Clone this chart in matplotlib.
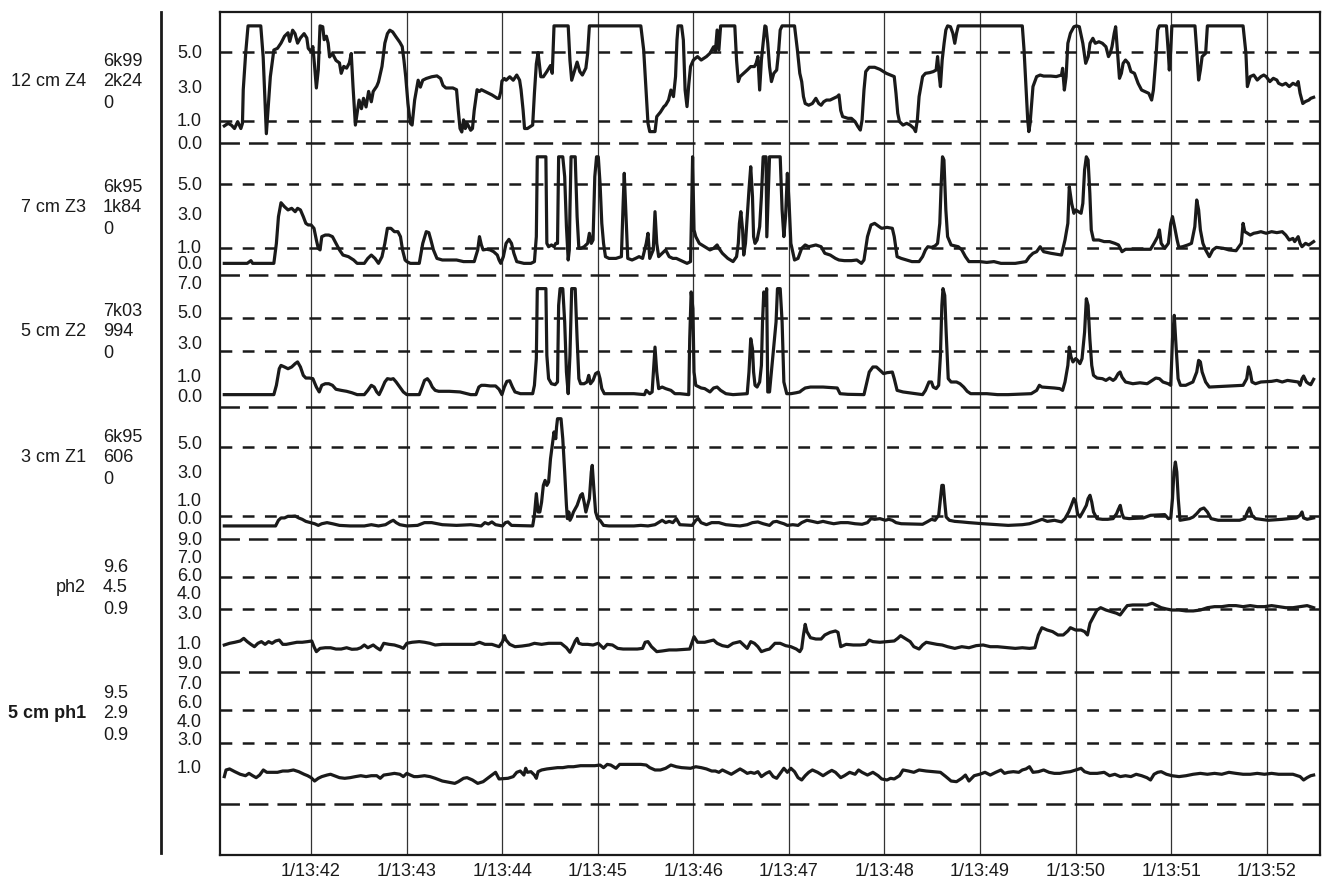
import numpy as np
import matplotlib.pyplot as plt
from matplotlib.lines import Line2D

plt.rcParams['font.family'] = ['Liberation Sans', 'DejaVu Sans']
plt.rcParams['lines.scale_dashes'] = False

# time axis: seconds after 13:41:00, labelled once a minute
tick_secs = [60, 120, 180, 240, 300, 360, 420, 480, 540, 600, 660]
tick_names = ["1/13:42", "1/13:43", "1/13:44", "1/13:45", "1/13:46", "1/13:47",
              "1/13:48", "1/13:49", "1/13:50", "1/13:51", "1/13:52"]

channel_names = ["12 cm Z4", "7 cm Z3", "5 cm Z2", "3 cm Z1", "ph2", "5 cm ph1"]
channel_stats = [["6k99", "2k24", "0"], ["6k95", "1k84", "0"], ["7k03", "994", "0"],
                 ["6k95", "606", "0"], ["9.6", "4.5", "0.9"], ["9.5", "2.9", "0.9"]]
scale_labels = [["5.0", "3.0", "1.0", "0.0"],
                ["5.0", "3.0", "1.0", "0.0"],
                ["7.0", "5.0", "3.0", "1.0", "0.0"],
                ["5.0", "3.0", "1.0", "0.0"],
                ["9.0", "7.0", "6.0", "4.0", "3.0", "1.0"],
                ["9.0", "7.0", "6.0", "4.0", "3.0", "1.0"]]

# traces: (seconds, value)
z4 = [(5.6, 0.7), (8, 0.85), (10, 0.75), (12, 0.55), (14, 0.95), (16, 0.55), (17, 0.85), (17.5, 2.8),
      (19, 4.9), (20.5, 6.5), (28.5, 6.5), (30, 4.7), (32, 0.25), (34.5, 3.55), (36.7, 5.1), (39, 5.2),
      (41.2, 5.5), (43.4, 5.9), (45.6, 6.1), (46.7, 5.6), (48.5, 6.25), (50, 6.05), (51.6, 5.5), (53.4, 5.8),
      (55.7, 6.05), (57.4, 5.8), (58.3, 5.2), (60.1, 5.0), (61.2, 5.3), (62.3, 4.15), (63.4, 2.9), (64.6, 3.95),
      (65.7, 6.5), (67.4, 6.45), (68.3, 5.7), (69.7, 5.9), (70.8, 5.5), (71.7, 4.7), (73.5, 4.9), (75.7, 4.5),
      (77.9, 4.35), (79, 3.75), (80.6, 4.15), (82.4, 4.05), (84.1, 4.35), (85.3, 4.9), (86.4, 3.0), (87.9, 0.75),
      (90.2, 2.2), (91.7, 1.7), (93, 2.3), (94.6, 1.8), (96.2, 2.7), (97.9, 2.1), (99.1, 2.7), (101.3, 3.0),
      (102.4, 3.25), (104.6, 4.15), (106.4, 5.5), (108, 6.05), (109.5, 6.25), (111.3, 6.15), (113.5, 5.85),
      (115.8, 5.55), (117.3, 5.3), (118.4, 4.5), (119.5, 3.55), (120.9, 2.0), (122.4, 0.85), (123.5, 0.75),
      (125.1, 2.2), (127.3, 3.35), (128.7, 2.95), (130.2, 3.35), (132.4, 3.45), (135.8, 3.55), (139.1, 3.6),
      (141.4, 3.45), (142.9, 3.05), (144.7, 2.9), (149.1, 2.9), (151.4, 2.8), (152.5, 1.6), (153.6, 0.55),
      (154.7, 0.35), (155.8, 1.05), (156.9, 0.55), (158, 0.85), (160.3, 0.45), (161.4, 0.55), (162.5, 1.6),
      (164.3, 2.8), (165.8, 2.7), (167, 2.8), (169.2, 2.7), (171.4, 2.6), (173.6, 2.5), (177, 2.3), (178.1, 2.3),
      (179.2, 2.7), (179.9, 3.3), (181.4, 3.45), (182.5, 3.35), (184.8, 3.55), (187, 3.35), (189.2, 3.65),
      (191, 3.35), (191.9, 2.8), (193.2, 1.6), (194.1, 0.55), (195.9, 0.55), (199.2, 0.75), (200.3, 2.6),
      (201.5, 4.3), (202.6, 4.95), (204.3, 3.55), (205.9, 3.55), (208.1, 3.85), (210.4, 4.2), (211.5, 3.75),
      (212.6, 6.5), (221.5, 6.5), (222.6, 4.5), (223.7, 3.35), (225.3, 3.85), (227.1, 4.4), (228.8, 3.85),
      (230.4, 3.65), (232.6, 4.05), (233.7, 4.9), (234.8, 6.5), (267.1, 6.5), (268.9, 5.1), (270.5, 2.6),
      (271.6, 0.85), (272.7, 0.37), (276, 0.37), (277.1, 1.24), (279.4, 1.5), (281.6, 1.82), (282.7, 1.91),
      (284.5, 2.2), (286, 2.78), (287.6, 2.4), (288.9, 3.56), (289.8, 5.68), (290.5, 6.5), (292.7, 6.5),
      (293.8, 5.68), (294.9, 2.78), (296.1, 1.82), (297.2, 3.1), (298.3, 4.14), (300.1, 4.52), (302.7, 4.72),
      (305, 4.52), (308.3, 4.72), (310.5, 4.91), (312.8, 5.29), (313.9, 5.0), (315, 6.26), (316.1, 5.1),
      (317.2, 6.5), (326.1, 6.5), (327.2, 4.52), (328.3, 3.27), (329.4, 3.56), (331.7, 3.75), (333.9, 3.94),
      (336.1, 4.14), (338.4, 4.14), (339.5, 4.33), (340.6, 4.72), (341.7, 2.78), (342.8, 4.52), (343.9, 5.49),
      (345, 6.5), (345.7, 6.45), (346.8, 5.49), (347.9, 4.14), (349.1, 3.27), (350.6, 3.75), (352.4, 3.94),
      (353.5, 4.91), (354.6, 6.26), (355.8, 6.5), (363.6, 6.5), (365.4, 5.1), (366.9, 3.75), (368.1, 3.27),
      (369.2, 2.4), (370.3, 2.0), (372.5, 1.9), (374.8, 2.0), (377, 2.3), (378.8, 2.0), (380.3, 1.9), (381.9, 2.1),
      (383.7, 2.2), (385.9, 2.2), (388.2, 2.3), (390.4, 2.4), (391.5, 2.5), (392.6, 1.6), (393.8, 1.24),
      (397.1, 1.14), (399.3, 1.14), (401.6, 0.95), (403.4, 0.66), (404.9, 0.46), (406, 1.04), (407.2, 2.78),
      (408.3, 3.85), (410.5, 4.1), (413.9, 4.1), (417.2, 3.98), (419.5, 3.85), (421.2, 3.75), (423.9, 3.65),
      (426.2, 3.56), (427.3, 2.59), (428.4, 1.43), (429.5, 0.95), (431.7, 0.75), (434, 0.85), (436.2, 0.75),
      (438.5, 0.56), (439.6, 0.37), (440.7, 1.04), (441.8, 2.4), (444, 3.56), (445.8, 3.75), (448.5, 3.79),
      (450.7, 3.85), (452.5, 3.94), (453.4, 4.72), (454.5, 3.56), (455.2, 2.98), (456.3, 4.52), (457.5, 5.49),
      (458.6, 6.26), (459.7, 6.5), (461.5, 6.45), (463, 6.07), (464.2, 5.49), (465.3, 6.07), (466.4, 6.5),
      (506.6, 6.5), (507.7, 5.1), (508.9, 2.98), (510, 1.04), (510.7, 0.37), (511.5, 0.85), (513.3, 2.98),
      (515.6, 3.56), (517.8, 3.65), (520, 3.59), (524.5, 3.59), (527.9, 3.56), (531.2, 3.65), (531.9, 4.04),
      (533, 2.78), (534.1, 3.56), (535.2, 5.49), (536.8, 6.07), (537.9, 6.26), (539, 6.45), (540.6, 6.5),
      (542.4, 6.45), (544.6, 5.49), (546.4, 4.33), (548, 4.72), (549.1, 5.49), (550.9, 5.78), (552.4, 5.49),
      (554.7, 5.58), (556.9, 5.49), (559.1, 5.29), (560.7, 4.72), (561.8, 4.91), (562.9, 5.29), (564.3, 6.07),
      (565.2, 6.45), (566.3, 5.1), (567.6, 3.46), (568.8, 3.75), (569.9, 4.33), (571.4, 4.52), (573.2, 4.33),
      (574.8, 3.85), (577, 3.75), (579.3, 3.17), (581.5, 2.78), (583.7, 2.69), (586, 2.59), (587.8, 2.2),
      (588.9, 2.78), (590.4, 4.52), (591.6, 6.26), (592.7, 6.5), (597.1, 6.5), (598.3, 4.91), (598.9, 3.94),
      (599.8, 5.1), (600.5, 6.5), (615, 6.5), (616.1, 5.1), (617.3, 3.36), (618.4, 3.94), (619.5, 4.72),
      (621.7, 4.91), (622.8, 6.5), (645.2, 6.5), (647, 4.91), (647.9, 2.98), (649.7, 3.56), (651.9, 3.65),
      (654.1, 3.36), (656.4, 3.56), (658.2, 3.65), (659.7, 3.56), (662, 3.27), (664.2, 3.46), (666.4, 3.36),
      (667.5, 3.17), (669.8, 3.07), (672, 3.17), (674.2, 2.98), (676.5, 3.17), (678.7, 3.07), (679.8, 3.27),
      (681, 2.59), (682.7, 2.0), (684.3, 2.11), (686.5, 2.2), (687.7, 2.3), (689.5, 2.36)]

z3 = [(5.6, 0.04), (20, 0.04), (22.3, 0.21), (23.4, 0.04), (36.7, 0.04), (38.3, 1.29), (39.6, 2.96),
      (41.2, 3.83), (43.4, 3.58), (45.6, 3.38), (47.9, 3.48), (50.1, 3.27), (51.6, 3.48), (53.4, 3.38),
      (55.2, 2.96), (56.8, 2.54), (58.3, 2.44), (60.1, 2.44), (61.9, 2.23), (63.4, 1.5), (64.6, 0.98),
      (65.7, 0.88), (66.8, 1.71), (69, 1.81), (71.2, 1.81), (73.5, 1.71), (75.7, 1.29), (77.9, 0.88),
      (80.1, 0.56), (83.5, 0.46), (86.8, 0.25), (89, 0.04), (93.5, 0.04), (95.7, 0.35), (97.9, 0.56),
      (100.2, 0.35), (102.4, 0.04), (104.6, 0.46), (106.4, 1.29), (108, 2.23), (110.2, 2.23), (112.4, 2.02),
      (114.6, 2.02), (116.2, 1.71), (117.5, 0.88), (119.1, 0.25), (120.2, 0.15), (122.4, 0.04), (128, 0.04),
      (130.2, 1.29), (132.4, 2.02), (134, 1.96), (135.3, 1.5), (136.9, 0.88), (139.1, 0.35), (142.5, 0.25),
      (151.4, 0.25), (155.8, 0.15), (162.5, 0.15), (164.7, 0.88), (165.8, 1.71), (167, 1.19), (168.1, 0.88),
      (170.3, 0.92), (172.5, 0.88), (174.7, 0.77), (177, 0.56), (178.1, 0.25), (179.2, 0.04), (180.8, 0.46),
      (182.5, 1.29), (184.3, 1.54), (185.9, 1.29), (187.4, 0.67), (189.2, 0.15), (193.7, 0.04), (198.1, 0.04),
      (200.3, 0.15), (201.5, 1.71), (202.1, 6.7), (207.5, 6.7), (208.1, 1.29), (209.2, 1.08), (211, 1.19),
      (212.6, 1.08), (213.7, 1.29), (214.8, 1.29), (215.5, 6.7), (218.1, 6.7), (219.3, 5.46), (220.4, 2.33),
      (221.5, 0.25), (222.2, 0.88), (222.6, 3.38), (223.3, 6.7), (225.9, 6.7), (227.1, 2.96), (228.2, 0.98),
      (229.3, 0.98), (231.5, 1.08), (233.7, 1.29), (234.8, 1.92), (236, 1.29), (237.1, 1.5), (238.2, 5.46),
      (239.3, 6.7), (240.4, 6.7), (241.5, 5.04), (242.6, 2.54), (243.7, 1.29), (244.9, 0.46), (247.1, 0.35),
      (251.5, 0.35), (254.9, 0.46), (256, 3.79), (256.7, 5.67), (257.5, 3.79), (258.9, 0.35), (261.6, 0.25),
      (263.8, 0.35), (266, 0.46), (268.2, 0.35), (270.5, 1.29), (271.6, 1.92), (272.7, 0.35), (274.9, 0.88),
      (276, 3.27), (277.1, 1.29), (278.3, 0.46), (280.5, 0.67), (282.7, 0.88), (284.9, 0.46), (287.2, 0.35),
      (289.4, 0.35), (291.6, 0.25), (293.8, 0.15), (296.1, 0.04), (298.3, 0.15), (299, 3.38), (299.6, 6.7),
      (300.5, 2.13), (301.6, 1.71), (303.8, 1.29), (307.2, 1.08), (310.5, 0.88), (312.8, 0.98), (315, 1.19),
      (316.1, 0.98), (318.3, 0.67), (321.7, 0.35), (325, 0.15), (327.2, 0.46), (328.3, 1.29), (329, 2.54),
      (329.9, 3.27), (331, 2.13), (331.7, 0.56), (332.8, 1.29), (333.9, 2.96), (335, 4.63), (336.1, 6.08),
      (337.2, 4.21), (337.9, 1.71), (338.8, 1.29), (340.1, 1.5), (341.7, 2.33), (342.8, 4.21), (343.9, 6.7),
      (345.7, 6.7), (346.2, 1.7), (347.9, 6.7), (354.6, 6.7), (355.8, 3.38), (356.9, 1.71), (358, 3.0),
      (359.1, 5.67), (360.2, 3.79), (361.3, 1.29), (363.6, 0.25), (365.8, 0.35), (368.1, 0.98), (370.3, 1.19),
      (372.5, 1.08), (377, 1.19), (380.3, 1.08), (382.6, 0.67), (386, 0.56), (389.3, 0.35), (391.5, 0.25),
      (394.9, 0.21), (399.3, 0.21), (402.7, 0.25), (405.6, 0.04), (407.2, 0.25), (409.4, 1.71), (411.6, 2.44),
      (413.9, 2.54), (416.8, 2.33), (418.3, 2.23), (421.7, 2.29), (425, 2.23), (426.2, 1.71), (428, 0.46),
      (430.6, 0.35), (434, 0.25), (437.3, 0.15), (441.8, 0.15), (444, 0.46), (445.8, 0.88), (447.3, 1.08),
      (449.6, 1.04), (451.8, 1.13), (453.4, 1.29), (454.8, 2.54), (455.7, 5.04), (456.5, 6.7), (457.4, 6.5),
      (458.6, 3.38), (459.7, 1.71), (461.9, 1.19), (466.4, 1.08), (468.6, 0.88), (470.9, 0.46), (473.1, 0.15),
      (479.8, 0.15), (484.3, 0.1), (488.8, 0.15), (493.2, 0.04), (502.2, 0.04), (508.9, 0.15), (511.1, 0.46),
      (513.3, 0.67), (515.6, 0.77), (517.8, 1.08), (520, 0.77), (524.5, 0.67), (531.2, 0.56), (533.4, 1.5),
      (535.2, 2.54), (536.1, 4.83), (537.6, 3.79), (539, 3.17), (540.1, 3.38), (541.9, 3.27), (543.5, 3.17),
      (544.6, 3.79), (545.7, 5.88), (546.8, 6.7), (547.9, 6.5), (549, 4.42), (549.9, 2.13), (551.3, 1.5),
      (554.7, 1.5), (558, 1.4), (561.4, 1.4), (564.7, 1.29), (567, 1.19), (569.2, 0.77), (571.4, 0.92),
      (578.1, 0.92), (582.6, 0.92), (587.1, 0.92), (589.3, 1.29), (591.6, 1.71), (592.7, 2.13), (593.8, 1.29),
      (596, 0.98), (598.3, 1.29), (599.8, 2.54), (600.9, 2.96), (602.2, 2.33), (603.8, 1.5), (604.9, 1.04),
      (607.2, 1.08), (610.5, 1.19), (612.8, 1.29), (614.9, 2.33), (616.1, 4.0), (617.3, 3.38), (618.4, 2.13),
      (620, 1.29), (621.7, 0.88), (624, 0.46), (626.2, 0.88), (628.4, 1.04), (632.9, 0.98), (636.3, 0.88),
      (640.8, 0.83), (644.1, 1.29), (645.2, 2.54), (646.3, 2.02), (648, 1.92), (649.7, 1.81), (651.9, 1.92),
      (654.1, 1.96), (656.4, 2.02), (659.7, 1.92), (663.1, 2.02), (666.4, 1.96), (669.8, 2.02), (672, 1.81),
      (674.2, 1.5), (676.5, 1.6), (677.6, 1.4), (679.8, 1.71), (681, 1.29), (682.2, 1.08), (684.4, 1.29),
      (686.5, 1.19), (689.5, 1.4)]

z2 = [(5.6, 0.15), (36.7, 0.15), (38.3, 0.74), (40.1, 1.79), (41.2, 2.0), (43.4, 1.9), (45.6, 1.79),
      (47.9, 1.9), (50.1, 2.11), (51.6, 2.22), (53.4, 1.9), (55.2, 1.37), (56.8, 1.2), (59, 1.2), (61.2, 1.16),
      (63.4, 0.63), (65.2, 0.32), (66.8, 0.74), (69, 0.84), (71.2, 0.84), (73.5, 0.74), (75.7, 0.49),
      (79, 0.42), (82.4, 0.36), (85.7, 0.27), (89, 0.15), (93.5, 0.15), (95.7, 0.42), (97.9, 0.74),
      (99.7, 0.63), (101.3, 0.32), (102.8, 0.15), (104.6, 0.53), (106.4, 0.95), (108, 1.16), (110.2, 1.12),
      (111.7, 1.16), (113.5, 0.95), (115.8, 0.63), (118, 0.32), (120.2, 0.15), (128, 0.15), (129.8, 0.63),
      (131.3, 1.05), (133.1, 1.16), (134.7, 0.95), (136.2, 0.63), (138, 0.42), (140.2, 0.36), (146.9, 0.36),
      (153.6, 0.32), (160.3, 0.15), (163.6, 0.15), (165.4, 0.63), (167, 0.74), (169.2, 0.74), (172.5, 0.7),
      (175.9, 0.7), (178.1, 0.49), (179.9, 0.15), (181.4, 0.63), (183, 0.99), (184.8, 1.03), (186.5, 0.63),
      (188.1, 0.32), (191.5, 0.21), (195.9, 0.21), (199.2, 0.21), (200.3, 0.74), (201.5, 2.43), (202.1, 6.86),
      (207.5, 6.86), (208.1, 2.64), (209.2, 1.16), (211, 0.84), (213.3, 0.78), (214.8, 0.95), (215.5, 5.8),
      (216.4, 6.86), (218.1, 6.86), (219.3, 4.75), (220.4, 1.58), (221.5, 0.21), (222.6, 2.64), (223.7, 6.86),
      (225.9, 6.86), (227.1, 3.69), (228.2, 1.16), (229.3, 0.84), (231.5, 0.84), (233.3, 0.95), (234.4, 1.37),
      (235.5, 0.84), (237.1, 1.05), (238.7, 1.48), (240.4, 1.58), (241.5, 1.16), (242.6, 0.53), (244.2, 0.21),
      (253.8, 0.21), (262.7, 0.21), (269.4, 0.15), (270.5, 0.42), (271.6, 0.32), (272.7, 0.21), (274.2, 0.32),
      (275.3, 2.0), (276, 3.16), (277.1, 1.58), (278.3, 0.53), (280.5, 0.63), (282.7, 0.53), (286, 0.42),
      (288.5, 0.21), (291.6, 0.21), (297.2, 0.15), (297.8, 3.69), (298.7, 6.65), (299.8, 5.59), (300.5, 1.58),
      (301.6, 0.74), (305, 0.57), (307.2, 0.53), (310.5, 0.32), (312.8, 0.57), (315, 0.63), (317.2, 0.42),
      (320.5, 0.21), (325, 0.15), (333.9, 0.21), (335, 1.58), (336.1, 3.69), (337.2, 3.06), (337.9, 1.58),
      (338.8, 0.74), (340.1, 0.63), (341.7, 0.95), (342.8, 2.0), (343.5, 4.75), (344.3, 6.65), (345.2, 5.8),
      (346.1, 6.86), (346.8, 0.32), (347.9, 0.32), (352, 4.75), (352.9, 6.86), (354.6, 6.86), (355.8, 4.75),
      (356.9, 0.95), (358.7, 0.21), (361.3, 0.21), (364.7, 0.27), (366.9, 0.32), (368.1, 0.42), (370.3, 0.57),
      (373.6, 0.63), (381.5, 0.63), (390.4, 0.57), (392.2, 0.21), (397.1, 0.17), (407.2, 0.15), (408.3, 0.63),
      (410.5, 1.58), (412.8, 1.9), (415, 1.9), (417.2, 1.69), (419.5, 1.48), (421.7, 1.54), (425, 1.58),
      (426.2, 1.16), (428, 0.42), (431.7, 0.32), (435.1, 0.27), (439.6, 0.21), (444, 0.15), (445.8, 0.42),
      (448, 0.95), (449.6, 0.95), (450.7, 0.63), (452.5, 0.53), (454.1, 0.74), (455.2, 2.64), (456.1, 5.8),
      (456.8, 6.86), (457.9, 6.43), (458.8, 4.1), (460.1, 1.16), (461.9, 0.95), (465.3, 0.95), (467.5, 0.84),
      (469.8, 0.63), (472, 0.36), (474.2, 0.21), (484.3, 0.21), (491, 0.15), (497.7, 0.15), (512.2, 0.21),
      (515.6, 0.42), (517.3, 0.74), (518.9, 0.63), (526.7, 0.57), (530.1, 0.53), (531.9, 0.42), (533.4, 0.95),
      (535.2, 2.0), (536.1, 3.16), (537.2, 2.53), (538.4, 2.22), (540.1, 2.43), (541.3, 2.32), (542.8, 2.11),
      (544.1, 2.43), (545.7, 4.1), (546.8, 6.22), (547.9, 5.8), (549, 3.69), (550.2, 2.0), (551.3, 1.37),
      (553.5, 1.2), (556.9, 1.16), (559.1, 1.05), (561.4, 1.2), (563.6, 1.05), (565, 1.16), (566.8, 1.48),
      (568, 1.58), (569.2, 1.26), (571.4, 0.95), (576, 0.84), (580.5, 0.9), (585, 0.84), (588.2, 1.05),
      (590.4, 1.2), (592.7, 1.16), (594.9, 0.95), (598.2, 0.84), (599.8, 0.74), (600.9, 3.69), (602, 5.17),
      (603.1, 3.27), (604.4, 1.16), (605.9, 0.74), (609.2, 0.74), (613.7, 0.95), (616.1, 1.58), (617.3, 2.32),
      (618.4, 2.22), (619.5, 1.58), (621.7, 0.95), (624, 0.63), (645.2, 0.74), (647.5, 1.16), (648.6, 1.9),
      (649.7, 1.58), (650.8, 0.95), (653, 0.84), (656.4, 0.95), (663.1, 0.99), (666.4, 1.05), (669.8, 0.95),
      (673.1, 1.05), (679.8, 0.95), (681, 0.74), (682.2, 1.16), (683.2, 1.33), (685, 0.95), (686.5, 0.84),
      (687.7, 0.78), (689.5, 1.12)]

z1 = [(5.6, -0.72), (37.8, -0.72), (39.6, -0.31), (41.2, -0.14), (43.4, -0.14), (45.6, -0.02), (47.9, -0.02),
      (50.1, 0), (52.3, -0.14), (54.5, -0.24), (56.8, -0.39), (59.7, -0.48), (62.3, -0.56), (64.6, -0.68),
      (66.8, -0.56), (70.1, -0.48), (73.5, -0.56), (77.9, -0.68), (84.6, -0.72), (93.5, -0.72), (97.9, -0.63),
      (102.4, -0.72), (106.8, -0.63), (110.2, -0.39), (111.7, -0.31), (113.5, -0.48), (115.8, -0.63),
      (120.2, -0.72), (126.9, -0.68), (131.3, -0.48), (135.8, -0.48), (142.5, -0.63), (151.4, -0.68),
      (160.3, -0.63), (166.9, -0.72), (169.2, -0.48), (171.4, -0.58), (173.6, -0.43), (175.9, -0.63),
      (180.3, -0.72), (182.1, -0.48), (183.7, -0.43), (185.9, -0.68), (199.2, -0.72), (200.3, 0.05),
      (201.5, 1.62), (202.6, 0.29), (203.7, 0.29), (204.8, 1.01), (205.9, 2.22), (207, 2.58), (208.1, 2.22),
      (209.2, 2.46), (210.4, 4.15), (211.5, 5.12), (212.6, 6.09), (213.7, 5.6), (214.2, 6.45), (214.8, 7.05),
      (217, 7.05), (218.1, 5.6), (219.3, 3.19), (220.4, 0.77), (221, -0.19), (221.9, 0.29), (222.6, -0.31),
      (223.7, -0.07), (224.8, 0.29), (227.1, 0.77), (229.3, 1.5), (230.4, 1.62), (231.5, 1.01), (232.6, 0.29),
      (233.7, 0.77), (234.8, 1.26), (236, 3.19), (236.6, 3.67), (237.6, 2.0), (238.7, 0.29), (240, -0.19),
      (241.5, -0.31), (243.7, -0.68), (247.1, -0.72), (262.7, -0.72), (267.1, -0.68), (271.6, -0.72),
      (276, -0.63), (280.5, -0.31), (282.7, -0.48), (284.9, -0.39), (287.2, -0.48), (289.4, -0.19),
      (291.6, -0.63), (299.4, -0.68), (301.6, -0.31), (303.2, -0.19), (304.9, -0.48), (308.3, -0.63),
      (311.6, -0.48), (316.1, -0.48), (320.5, -0.63), (325, -0.68), (329.4, -0.72), (333.9, -0.63),
      (337.2, -0.48), (340.6, -0.43), (343.9, -0.56), (347.9, -0.68), (350.2, -0.43), (352.4, -0.39),
      (354.6, -0.48), (356.9, -0.56), (359.1, -0.68), (362.5, -0.63), (365.8, -0.68), (368.1, -0.48),
      (371.4, -0.31), (374.8, -0.39), (378.1, -0.48), (381.5, -0.39), (384.8, -0.48), (388.2, -0.56),
      (392.6, -0.48), (397.1, -0.48), (401.6, -0.56), (406, -0.6), (409.4, -0.48), (411.6, -0.19),
      (413.9, -0.24), (417.2, -0.19), (420.6, -0.31), (422.8, -0.24), (425, -0.31), (427.3, -0.48),
      (430.6, -0.56), (444, -0.6), (447.4, -0.39), (449.6, -0.24), (451.8, -0.31), (454.1, 0.05), (455.2, 1.26),
      (456.1, 2.22), (457, 2.22), (457.9, 1.01), (458.8, -0.07), (460.8, -0.31), (464.2, -0.39), (468.6, -0.43),
      (473.1, -0.48), (482, -0.56), (491, -0.63), (497.7, -0.68), (506.6, -0.63), (511.1, -0.56),
      (515.6, -0.39), (519, -0.24), (522.3, -0.39), (526.8, -0.31), (531.2, -0.43), (533.4, -0.19),
      (535.7, 0.29), (537.4, 0.77), (539, 1.26), (540.1, 1.01), (541.3, 0.17), (542.8, -0.07), (544.6, 0.29),
      (546.8, 0.77), (547.9, 1.26), (549.1, 1.5), (550.2, 1.01), (551.3, 0.29), (553.5, -0.19), (556.9, -0.24),
      (560.2, -0.24), (563.6, -0.19), (565.8, 0.17), (566.9, 0.48), (568.1, 0.77), (569.2, 0.17),
      (570.3, -0.14), (573.7, -0.19), (582.6, -0.14), (587.1, 0.05), (596, 0.1), (598.3, -0.19),
      (599.8, -0.14), (600.9, 1.26), (601.8, 3.19), (602.7, 3.91), (603.6, 3.19), (604.5, 1.26), (605.6, -0.31),
      (611.6, -0.19), (613.9, -0.07), (616.1, 0.17), (618.4, 0.48), (620.6, 0.58), (622.8, 0.29),
      (625.1, -0.19), (629.6, -0.31), (643, -0.31), (646.3, -0.19), (647.9, 0.29), (649.2, 0.58), (650.8, 0.05),
      (653, -0.19), (656.4, -0.24), (660.9, -0.31), (669.8, -0.24), (674.2, -0.19), (678.7, -0.14), (681, 0.05),
      (682.2, 0.29), (683.2, -0.14), (685.4, -0.24), (689.5, -0.14)]

ph2 = [(5.6, 1.0), (8.9, 1.13), (12.2, 1.21), (15.6, 1.31), (17.8, 1.51), (20, 1.26), (22.3, 1.05),
       (24.5, 0.87), (26.7, 1.13), (28.9, 1.26), (31.2, 1.05), (33.4, 1.26), (35.6, 1.13), (37.8, 1.31),
       (40.1, 1.38), (42.3, 1.05), (44.5, 1.05), (47.9, 1.13), (51.2, 1.21), (54.5, 1.21), (57.9, 1.26),
       (60.5, 1.31), (61.9, 0.87), (63.4, 0.49), (65.7, 0.74), (69, 0.79), (72.3, 0.79), (75.7, 0.69),
       (79, 0.69), (82.4, 0.79), (85.7, 0.67), (89, 0.69), (91.3, 0.79), (93.5, 1.0), (95.7, 0.79), (99.1, 1.0),
       (101.3, 0.79), (103.5, 0.62), (105.7, 1.13), (109.1, 1.05), (112.4, 1.0), (115.8, 0.87), (118, 0.74),
       (120.2, 1.13), (123.5, 1.21), (128, 1.26), (131.3, 1.21), (134.7, 1.13), (138, 1.0), (142.5, 1.05),
       (162.5, 1.05), (165.8, 1.21), (169.2, 1.05), (173.6, 1.05), (178.1, 0.87), (180.3, 1.26), (181.4, 1.72),
       (182.5, 1.38), (184.8, 1.05), (188.1, 0.87), (192.5, 0.92), (197, 1.0), (200.3, 1.13), (204.8, 1.05),
       (209.2, 1.13), (217, 1.13), (220.4, 0.79), (222.6, 0.44), (224.8, 1.0), (225.9, 1.31), (227.1, 1.51),
       (228.2, 1.13), (230.4, 1.05), (233.7, 1.05), (237.1, 1.0), (240.4, 1.13), (243.7, 0.74), (246, 1.05),
       (249.3, 1.0), (252.6, 0.74), (256, 0.69), (264.9, 0.69), (268.2, 0.74), (269.8, 1.21), (271.6, 1.26),
       (273.8, 0.87), (277.1, 0.49), (280.5, 0.54), (284.9, 0.62), (289.4, 0.62), (297.8, 0.69), (299.4, 1.26),
       (300.5, 1.64), (302.7, 1.21), (307.2, 1.21), (310.5, 1.31), (312.8, 1.38), (315, 1.13), (318.3, 0.95),
       (321.7, 0.87), (325, 1.13), (329.4, 1.26), (331.7, 1.0), (333.9, 0.74), (336.1, 1.26), (338.4, 1.13),
       (340.6, 0.87), (342.8, 0.49), (345.7, 0.62), (347.9, 0.69), (351.3, 1.13), (354.6, 1.13), (358, 0.95),
       (361.3, 0.87), (364.7, 0.69), (366.9, 0.49), (368.1, 0.74), (369.2, 1.77), (370.3, 2.59), (371.4, 2.03),
       (373.6, 1.56), (377, 1.46), (380.3, 1.46), (382.6, 1.77), (385.9, 1.97), (389.3, 2.08), (390.9, 1.97),
       (392.6, 0.87), (396, 1.05), (400.5, 1.0), (404.9, 1.0), (408.3, 1.05), (410.5, 1.38), (412.8, 1.26),
       (417.2, 1.21), (421.7, 1.26), (426.2, 1.31), (428.4, 1.51), (430.2, 1.72), (432.9, 1.51), (436.2, 1.26),
       (438.5, 0.87), (441.8, 0.69), (444, 1.0), (446.3, 1.21), (449.6, 1.13), (453, 1.05), (456.3, 1.0),
       (459.7, 0.87), (464.2, 0.74), (468.6, 0.87), (473.1, 0.79), (477.6, 0.95), (482, 1.0), (486.5, 0.87),
       (491, 0.87), (497.7, 0.79), (502.2, 0.74), (506.6, 0.79), (511.1, 0.74), (514.5, 0.79), (516.7, 1.77),
       (518.9, 2.33), (522.3, 2.15), (525.6, 2.03), (529, 1.77), (532.3, 1.77), (535.2, 2.08), (536.8, 2.33),
       (540.1, 2.15), (543.5, 2.15), (545.7, 2.03), (547.5, 1.77), (549.1, 2.67), (551.3, 3.18), (553.5, 3.69),
       (555.8, 3.87), (559.1, 3.69), (562.5, 3.56), (565.8, 3.44), (568, 3.31), (570.3, 3.69), (572.5, 4.03),
       (575.9, 4.08), (584.8, 4.08), (588.2, 4.21), (590.4, 4.08), (593.8, 3.87), (597.1, 3.77), (600.5, 3.69),
       (605, 3.69), (609.4, 3.62), (613.9, 3.62), (618.4, 3.69), (622.8, 3.87), (627.3, 3.95), (631.8, 3.95),
       (636.3, 4.03), (640.7, 4.03), (645.2, 3.95), (649.7, 4.03), (654.1, 3.95), (658.6, 3.95), (663.1, 4.03),
       (667.5, 3.95), (672, 3.87), (676.5, 3.87), (680.9, 3.95), (685.4, 4.03), (689.5, 3.87)]

ph1 = [(5.6, 1.03), (6.7, 1.54), (8.9, 1.62), (12.2, 1.41), (15.6, 1.21), (18.9, 1.1), (21.1, 1.28),
       (23.4, 1.1), (25.6, 0.95), (27.8, 1.15), (30.1, 1.54), (32.3, 1.36), (39, 1.36), (42.3, 1.46),
       (45.6, 1.46), (49, 1.54), (52.3, 1.41), (55.7, 1.21), (57.9, 1.1), (60.1, 0.95), (62.3, 0.69),
       (64.6, 0.9), (66.8, 1.03), (70.1, 1.15), (72.3, 1.21), (74.6, 1.1), (77.9, 0.95), (81.2, 0.9),
       (84.6, 0.95), (87.9, 1.03), (91.3, 1.1), (94.6, 1.03), (97.9, 1.1), (101.3, 1.1), (103.5, 0.9),
       (105.7, 1.15), (109.1, 1.21), (112.4, 1.28), (115.8, 1.21), (118, 1.03), (120.2, 1.28), (122.4, 1.15),
       (124.7, 1.03), (126.9, 1.03), (131.3, 1.1), (134.7, 1.03), (138, 0.9), (142.5, 0.69), (146.9, 0.59),
       (150.3, 0.51), (152.5, 0.64), (155.8, 0.9), (158, 0.95), (161.4, 0.77), (164.7, 0.51), (168.1, 0.64),
       (171.4, 0.95), (173.6, 1.15), (175.9, 1.36), (177, 1.1), (178.1, 0.85), (183.7, 0.9), (187, 1.03),
       (189.2, 1.36), (191.4, 1.46), (193.7, 1.15), (194.8, 1.67), (195.9, 1.36), (198.1, 1.41), (200.3, 1.15),
       (201.5, 0.9), (202.6, 1.41), (204.8, 1.54), (208.1, 1.62), (211.5, 1.67), (214.8, 1.72), (218.1, 1.72),
       (221.5, 1.79), (224.8, 1.79), (229.3, 1.87), (238.2, 1.87), (241.5, 1.92), (243.7, 1.72), (246, 1.97),
       (248.2, 1.92), (251.5, 1.67), (253.8, 1.97), (267.1, 1.97), (270.5, 1.92), (272.7, 1.72), (276, 1.54),
       (279.4, 1.54), (282.7, 1.67), (286, 1.92), (289.4, 1.79), (292.7, 1.72), (298.3, 1.67), (301.6, 1.79),
       (305, 1.72), (308.3, 1.62), (311.6, 1.46), (313.9, 1.46), (316.1, 1.36), (318.3, 1.54), (320.5, 1.41),
       (323.9, 1.21), (327.2, 1.46), (329.4, 1.62), (331.7, 1.46), (333.9, 1.28), (336.1, 1.36), (338.4, 1.28),
       (340.6, 1.41), (342.8, 1.03), (345.7, 1.28), (347.9, 1.41), (350.2, 1.03), (352.4, 0.9), (354.6, 1.28),
       (356.9, 1.67), (359.1, 1.36), (361.3, 1.67), (363.6, 1.41), (365.8, 0.95), (368.1, 0.77), (370.3, 1.1),
       (372.5, 1.36), (374.8, 1.54), (378.1, 1.36), (381.5, 1.1), (384.8, 1.36), (387, 1.51), (389.3, 1.36),
       (392.6, 0.95), (394.9, 1.1), (398.2, 1.36), (401.6, 1.21), (403.8, 1.54), (406, 1.36), (409.4, 1.15),
       (412.8, 1.36), (416.1, 1.1), (418.3, 0.85), (421.7, 0.77), (423.9, 0.9), (426.2, 0.85), (429.5, 1.1),
       (431.7, 1.54), (435.1, 1.46), (438.5, 1.36), (441.8, 1.54), (446.3, 1.46), (450.7, 1.41), (455.2, 1.36),
       (458.6, 1.03), (461.9, 0.69), (465.3, 0.64), (468.6, 0.9), (470.9, 1.15), (473.1, 0.69), (476.4, 1.1),
       (479.8, 1.21), (483.2, 1.36), (486.5, 1.15), (489.9, 1.36), (493.2, 1.54), (495.4, 1.28), (497.7, 1.36),
       (501, 1.41), (504.4, 1.36), (506.6, 1.54), (508.9, 1.62), (511.1, 1.79), (513.3, 1.36), (516.7, 1.41),
       (520, 1.54), (523.4, 1.36), (526.7, 1.28), (530.1, 1.28), (533.4, 1.36), (536.8, 1.41), (540.1, 1.54),
       (543.5, 1.67), (545.7, 1.41), (549.1, 1.28), (553.6, 1.28), (558, 1.36), (561.4, 1.1), (564.7, 1.21),
       (568.1, 1.03), (571.4, 1.1), (574.8, 1.03), (578.1, 1.21), (581.5, 1.1), (584.8, 0.95), (587.1, 0.77),
       (589.3, 1.21), (591.6, 1.36), (593.8, 1.41), (597.1, 1.21), (600.5, 1.1), (605, 1.03), (609.4, 1.1),
       (613.9, 1.21), (618.4, 1.28), (622.8, 1.21), (627.3, 1.28), (631.8, 1.21), (636.3, 1.36), (640.7, 1.28),
       (645.2, 1.21), (649.7, 1.21), (654.1, 1.28), (658.6, 1.21), (663.1, 1.28), (667.5, 1.21), (676.5, 1.21),
       (681, 1.03), (683.2, 0.77), (685.4, 0.95), (687.7, 1.1), (689.5, 1.15)]

traces = [z4, z3, z2, z1, ph2, ph1]

# ---- strip layout (in image rows, top = 12, bottom = 855) ----
W, H = 1329, 885
TOP, BOTTOM, LEFT, RIGHT = 12, 855, 220, 1320
# where value 0 sits and pixels per unit for each channel
zero_row = [138, 264, 397, 516, 658, 790]
px_per_unit = [17.25, 16.0, 15.8, 13.8, 13.0, 13.0]
scale_label_rows = [[52, 87, 120, 143], [184, 214, 247, 263], [283, 312, 343, 376, 396],
                    [443, 472, 500, 518], [539, 557, 575, 593, 613, 643], [663, 683, 702, 721, 739, 767]]
short_dash_rows = [52, 121, 184, 248, 318, 351, 447, 516, 577, 609, 710, 743]
long_dash_rows = [143, 275, 407, 539, 672, 804]
name_rows = [82, 208, 332, 458, 588, 714]

ink = '#1a1a1a'
fig = plt.figure(figsize=(W / 100, H / 100), dpi=100)
ax = fig.add_axes([LEFT / W, 1 - BOTTOM / H, (RIGHT - LEFT) / W, (BOTTOM - TOP) / H])
ax.set_xlim(2.9, 693.5)
ax.set_ylim(BOTTOM, TOP)

for t in tick_secs:
    ax.axvline(t, color='#333333', lw=0.9, zorder=1)
for r in short_dash_rows:
    ax.axhline(r, color=ink, lw=1.8, dashes=(8.5, 7.5), zorder=2)
for r in long_dash_rows:
    ax.axhline(r, color=ink, lw=1.8, dashes=(14, 6.5), zorder=2)

for tr, y0, k in zip(traces, zero_row, px_per_unit):
    arr = np.array(tr)
    ax.plot(arr[:, 0], y0 - k * arr[:, 1], color=ink, lw=2.3, zorder=3)

yt, yl = [], []
for rows, labs in zip(scale_label_rows, scale_labels):
    yt += rows
    yl += labs
ax.set_yticks(yt, yl)
ax.set_xticks(tick_secs, tick_names)
ax.tick_params(axis='y', length=0, pad=13, labelsize=13, labelcolor=ink)
ax.tick_params(axis='x', length=0, pad=6, labelsize=13, labelcolor=ink)
for s in ax.spines.values():
    s.set_linewidth(1.6)
    s.set_color(ink)

fig.add_artist(Line2D([161 / W, 161 / W], [1 - TOP / H, 1 - 853 / H], lw=2.0, color=ink))

for name, stats, r in zip(channel_names, channel_stats, name_rows):
    fig.text(86 / W, 1 - r / H, name, ha='right', va='center', fontsize=13, color=ink,
             fontweight='bold' if name == "5 cm ph1" else 'normal')
    for i, s in enumerate(stats):
        fig.text(103 / W, 1 - (r + (i - 1) * 21) / H, s, ha='left', va='center', fontsize=13, color=ink)

fig.savefig('out.png', dpi=100)
